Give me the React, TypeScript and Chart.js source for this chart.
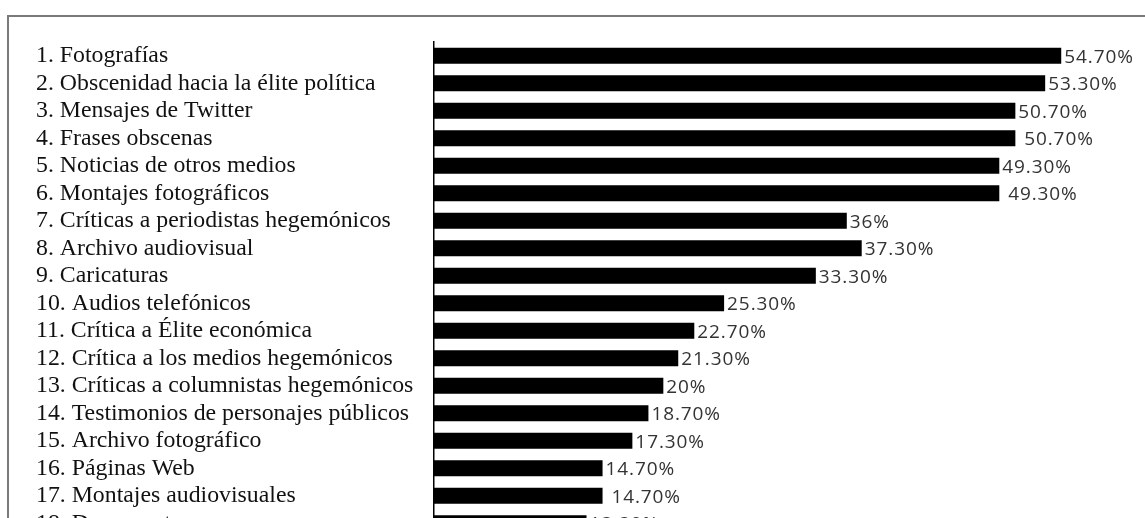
import React, { useEffect, useRef } from "react";
import { Chart, registerables } from "chart.js";

Chart.register(...registerables);

const categories = [
  "1. Fotografías",
  "2. Obscenidad hacia la élite política",
  "3. Mensajes de Twitter",
  "4. Frases obscenas",
  "5. Noticias de otros medios",
  "6. Montajes fotográficos",
  "7. Críticas a periodistas hegemónicos",
  "8. Archivo audiovisual",
  "9. Caricaturas",
  "10. Audios telefónicos",
  "11. Crítica a Élite económica",
  "12. Crítica a los medios hegemónicos",
  "13. Críticas a columnistas hegemónicos",
  "14. Testimonios de personajes públicos",
  "15. Archivo fotográfico",
  "16. Páginas Web",
  "17. Montajes audiovisuales",
  "18. Documentos",
];

const values = [54.7, 53.3, 50.7, 50.7, 49.3, 49.3, 36, 37.3, 33.3, 25.3, 22.7, 21.3, 20, 18.7, 17.3, 14.7, 14.7, 13.3];

const valueLabels = [
  "54.70%",
  "53.30%",
  "50.70%",
  " 50.70%",
  "49.30%",
  " 49.30%",
  "36%",
  "37.30%",
  "33.30%",
  "25.30%",
  "22.70%",
  "21.30%",
  "20%",
  "18.70%",
  "17.30%",
  "14.70%",
  " 14.70%",
  "13.30%",
];

const xMax = 60;

export default function App() {
  const ref = useRef<HTMLCanvasElement>(null);

  useEffect(() => {
    if (!ref.current) return;
    const framePlugin = {
      id: "frame",
      beforeDraw(chart: any) {
        const { ctx } = chart;
        ctx.save();
        ctx.fillStyle = "#ffffff";
        ctx.fillRect(0, 0, chart.width, chart.height);
        ctx.strokeStyle = "#7a7a7a";
        ctx.lineWidth = 2;
        ctx.beginPath();
        ctx.moveTo(8, chart.height + 5);
        ctx.lineTo(8, 16);
        ctx.lineTo(chart.width + 5, 16);
        ctx.stroke();
        ctx.restore();
      },
    };
    const valuePlugin = {
      id: "values",
      afterDatasetsDraw(chart: any) {
        const { ctx } = chart;
        const meta = chart.getDatasetMeta(0);
        ctx.save();
        ctx.font = '19px "Open Sans"';
        (ctx as any).letterSpacing = "0.9px";
        ctx.fillStyle = "#333333";
        ctx.textBaseline = "middle";
        ctx.textAlign = "left";
        meta.data.forEach((bar: any, i: number) => {
          ctx.fillText(valueLabels[i], bar.x + 3, bar.y + 1.5);
        });
        ctx.restore();
      },
    };
    const chart = new Chart(ref.current, {
      type: "bar",
      data: {
        labels: categories,
        datasets: [
          {
            data: values,
            backgroundColor: "#000000",
            borderWidth: 0,
            barPercentage: 0.58,
            categoryPercentage: 1,
          },
        ],
      },
      options: {
        indexAxis: "y",
        responsive: false,
        animation: false,
        layout: { padding: { left: 36, top: 42, right: 23, bottom: 23 } },
        plugins: { legend: { display: false }, tooltip: { enabled: false } },
        scales: {
          x: { display: false, min: 0, max: xMax },
          y: {
            grid: { display: false, drawTicks: false },
            border: { display: true, color: "#000000", width: 1.5 },
            ticks: {
              autoSkip: false,
              crossAlign: "far",
              padding: 0,
              color: "#111111",
              font: { family: '"Liberation Serif", "Times New Roman", serif', size: 23.8, lineHeight: 1 },
            },
            afterFit: (s: any) => {
              s.width = 398;
            },
          },
        },
      } as any,
      plugins: [framePlugin, valuePlugin],
    });
    return () => chart.destroy();
  }, []);

  return (
    <div style={{ position: "fixed", left: 0, top: 0, width: 1145, height: 518, overflow: "hidden", background: "#fff" }}>
      <canvas ref={ref} width={1145} height={560} style={{ display: "block" }} />
    </div>
  );
}
